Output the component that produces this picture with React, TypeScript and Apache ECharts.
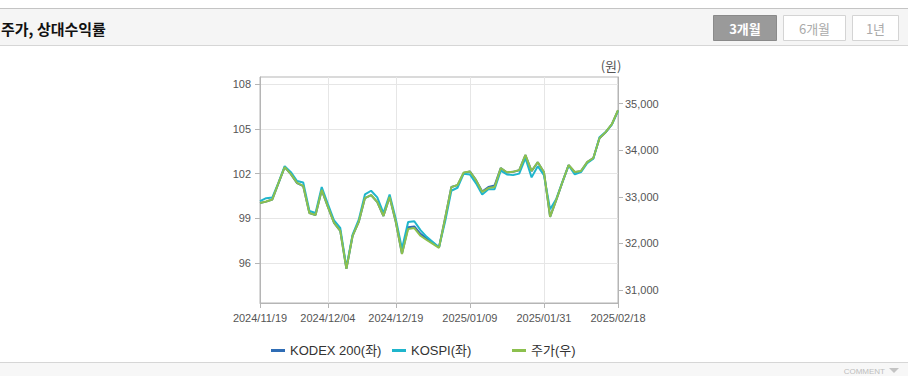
import React, { useEffect, useRef } from "react";
import * as echarts from "echarts";

const categories: string[] = [
  "2024/11/19","2024/11/20","2024/11/21","2024/11/22","2024/11/25","2024/11/26","2024/11/27","2024/11/28","2024/11/29",
  "2024/12/02","2024/12/03","2024/12/04","2024/12/05","2024/12/06","2024/12/09","2024/12/10","2024/12/11","2024/12/12","2024/12/13",
  "2024/12/16","2024/12/17","2024/12/18","2024/12/19","2024/12/20","2024/12/23","2024/12/24","2024/12/26","2024/12/27","2024/12/30",
  "2025/01/02","2025/01/03","2025/01/06","2025/01/07","2025/01/08","2025/01/09","2025/01/10","2025/01/13","2025/01/14","2025/01/15",
  "2025/01/16","2025/01/17","2025/01/20","2025/01/21","2025/01/22","2025/01/23","2025/01/24","2025/01/31",
  "2025/02/03","2025/02/04","2025/02/05","2025/02/06","2025/02/07","2025/02/10","2025/02/11","2025/02/12","2025/02/13","2025/02/14",
  "2025/02/17","2025/02/18",
];

const tickLabels: string[] = ["2024/11/19", "2024/12/04", "2024/12/19", "2025/01/09", "2025/01/31", "2025/02/18"];

const kodex200: number[] = [
  100.02, 100.12, 100.26, 101.36, 102.44, 101.97, 101.36, 101.16, 99.35, 99.22,
  100.89, 99.76, 98.68, 98.15, 95.6, 97.81, 98.75, 100.36, 100.56, 100.09,
  99.15, 100.43, 98.75, 96.61, 98.4, 98.45, 97.95, 97.65, 97.35, 97.05,
  99.02, 101.1, 101.23, 102.05, 102.15, 101.56, 100.8, 101.1, 101.2, 102.37,
  102.08, 102.12, 102.23, 103.24, 102.17, 102.77, 102.1, 99.09, 100.23, 101.43,
  102.57, 102.1, 102.17, 102.77, 103.04, 104.38, 104.78, 105.32, 106.26,
];

const kospi: number[] = [
  100.15, 100.35, 100.4, 101.4, 102.5, 102.1, 101.5, 101.4, 99.5, 99.35,
  101.1, 99.95, 98.85, 98.35, 95.7, 97.9, 98.9, 100.6, 100.85, 100.4,
  99.35, 100.6, 98.95, 96.95, 98.75, 98.8, 98.2, 97.75, 97.4, 97.05,
  98.8, 100.85, 101.05, 102.0, 101.95, 101.35, 100.6, 100.95, 100.95, 102.2,
  101.95, 101.9, 102.0, 103.05, 101.75, 102.5, 101.9, 99.6, 100.3, 101.45,
  102.55, 101.95, 102.1, 102.7, 103.0, 104.45, 104.8, 105.3, 106.2,
];

const price: number[] = [
  32870, 32900, 32945, 33300, 33640, 33490, 33300, 33235, 32655, 32610,
  33150, 32785, 32440, 32270, 31455, 32165, 32465, 32975, 33040, 32890,
  32590, 33000, 32465, 31775, 32310, 32330, 32165, 32075, 31990, 31905,
  32550, 33210, 33255, 33525, 33545, 33360, 33105, 33190, 33210, 33620,
  33530, 33540, 33575, 33900, 33555, 33745, 33535, 32570, 32935, 33320,
  33685, 33535, 33555, 33745, 33835, 34260, 34390, 34560, 34860,
];

const leftTicks: number[] = [96, 99, 102, 105, 108];
const rightTicks: number[] = [31000, 32000, 33000, 34000, 35000];

const seriesNames = ["KODEX 200(좌)", "KOSPI(좌)", "주가(우)"];
const buttons = ["3개월", "6개월", "1년"];

const FONT = 'Arial, "Liberation Sans", "Noto Sans CJK KR", sans-serif';
const KFONT = '"Noto Sans CJK KR", "Liberation Sans", sans-serif';

export default function App() {
  const ref = useRef<HTMLDivElement>(null);

  useEffect(() => {
    if (!ref.current) return;
    const chart = echarts.init(ref.current, undefined, { renderer: "svg" });
    const labelIdx = tickLabels.map((t) => categories.indexOf(t));
    const isTick = (i: number) => labelIdx.indexOf(i) >= 0;

    const legendBase = {
      icon: "rect",
      itemWidth: 14,
      itemHeight: 3,
      top: 339,
      textStyle: { fontSize: 13, color: "#333", fontFamily: FONT },
      selectedMode: false,
    };

    const option: any = {
      animation: false,
      textStyle: { fontFamily: FONT },
      grid: {
        left: 260,
        top: 77,
        width: 358,
        height: 226,
        show: true,
        borderColor: "#b5b5b5",
        borderWidth: 1,
        containLabel: false,
      },
      legend: [
        { ...legendBase, left: 266, data: [seriesNames[0]] },
        { ...legendBase, left: 387, data: [seriesNames[1]] },
        { ...legendBase, left: 507, data: [seriesNames[2]] },
      ],
      xAxis: {
        type: "category",
        data: categories,
        boundaryGap: false,
        axisLine: { lineStyle: { color: "#b5b5b5" } },
        axisTick: { show: true, interval: (i: number) => isTick(i), length: 5, lineStyle: { color: "#b5b5b5" } },
        axisLabel: {
          interval: (i: number) => isTick(i),
          color: "#555",
          fontSize: 11,
          margin: 9,
          fontFamily: FONT,
        },
        splitLine: { show: true, interval: (i: number) => isTick(i), lineStyle: { color: "#e6e6e6" } },
      },
      yAxis: [
        {
          type: "value",
          position: "left",
          min: 93.3,
          max: 108.5,
          minInterval: 3,
          maxInterval: 3,
          splitNumber: 5,
          axisLine: { show: true, lineStyle: { color: "#b5b5b5" } },
          axisTick: { show: true, length: 5, customValues: leftTicks, lineStyle: { color: "#b5b5b5" } },
          axisLabel: {
            customValues: leftTicks,
            color: "#555",
            fontSize: 11,
            margin: 9,
            fontFamily: FONT,
          },
          splitLine: { show: true, lineStyle: { color: "#e6e6e6" } },
        },
        {
          type: "value",
          position: "right",
          min: 30722,
          max: 35574,
          minInterval: 1000,
          maxInterval: 1000,
          axisLine: { show: true, lineStyle: { color: "#b5b5b5" } },
          axisTick: { show: true, length: 5, customValues: rightTicks, lineStyle: { color: "#b5b5b5" } },
          axisLabel: {
            customValues: rightTicks,
            color: "#555",
            fontSize: 11,
            margin: 7,
            fontFamily: FONT,
            formatter: (v: number) => v.toLocaleString("en-US"),
          },
          splitLine: { show: false },
        },
      ],
      series: [
        {
          name: seriesNames[0],
          type: "line",
          yAxisIndex: 0,
          data: kodex200,
          symbol: "none",
          color: "#2f6db5",
          lineStyle: { width: 2, color: "#2f6db5" },
        },
        {
          name: seriesNames[1],
          type: "line",
          yAxisIndex: 0,
          data: kospi,
          symbol: "none",
          color: "#1fb5cc",
          lineStyle: { width: 2, color: "#1fb5cc" },
        },
        {
          name: seriesNames[2],
          type: "line",
          yAxisIndex: 1,
          data: price,
          symbol: "none",
          color: "#8cc04e",
          lineStyle: { width: 2, color: "#8cc04e" },
        },
      ],
      graphic: [
        { type: "rect", left: 0, top: 8, shape: { width: 908, height: 38 }, style: { fill: "#f5f5f5" }, silent: true },
        { type: "line", shape: { x1: 0, y1: 8.5, x2: 908, y2: 8.5 }, style: { stroke: "#c4c4c4", lineWidth: 1 }, silent: true },
        { type: "line", shape: { x1: 0, y1: 45.5, x2: 908, y2: 45.5 }, style: { stroke: "#d6d6d6", lineWidth: 1 }, silent: true },
        {
          type: "text",
          x: 1,
          y: 28,
          style: { text: "주가, 상대수익률", fill: "#111", font: `bold 15px ${KFONT}`, textVerticalAlign: "middle" },
        },
        { type: "rect", shape: { x: 713.5, y: 15.5, width: 63, height: 25 }, style: { fill: "#9a9a9a", stroke: "#8a8a8a", lineWidth: 1 } },
        {
          type: "text",
          x: 745,
          y: 28,
          style: { text: buttons[0], fill: "#fff", font: `bold 13px ${KFONT}`, textAlign: "center", textVerticalAlign: "middle" },
        },
        { type: "rect", shape: { x: 783.5, y: 15.5, width: 62, height: 25 }, style: { fill: "#fff", stroke: "#d4d4d4", lineWidth: 1 } },
        {
          type: "text",
          x: 814.5,
          y: 28,
          style: { text: buttons[1], fill: "#aaa", font: `13px ${KFONT}`, textAlign: "center", textVerticalAlign: "middle" },
        },
        { type: "rect", shape: { x: 852.5, y: 15.5, width: 46, height: 25 }, style: { fill: "#fff", stroke: "#d4d4d4", lineWidth: 1 } },
        {
          type: "text",
          x: 875.5,
          y: 28,
          style: { text: buttons[2], fill: "#aaa", font: `13px ${KFONT}`, textAlign: "center", textVerticalAlign: "middle" },
        },
        {
          type: "text",
          x: 611,
          y: 65,
          style: { text: "(원)", fill: "#555", font: `13px ${KFONT}`, textAlign: "center", textVerticalAlign: "middle" },
        },
        { type: "rect", left: 0, top: 362, shape: { width: 908, height: 14 }, style: { fill: "#f7f7f7" }, silent: true },
        { type: "line", shape: { x1: 0, y1: 362.5, x2: 908, y2: 362.5 }, style: { stroke: "#d6d6d6", lineWidth: 1 }, silent: true },
        {
          type: "text",
          x: 885,
          y: 371,
          style: { text: "COMMENT", fill: "#bdbdbd", font: `8px ${FONT}`, textAlign: "right", textVerticalAlign: "middle" },
        },
        {
          type: "polygon",
          shape: { points: [[889, 368], [899, 368], [894, 373]] },
          style: { fill: "#c4c4c4" },
        },
      ],
    };

    chart.setOption(option);
    return () => chart.dispose();
  }, []);

  return (
    <div
      ref={ref}
      style={{ position: "fixed", left: 0, top: 0, width: 908, height: 376, background: "#fff" }}
    />
  );
}
